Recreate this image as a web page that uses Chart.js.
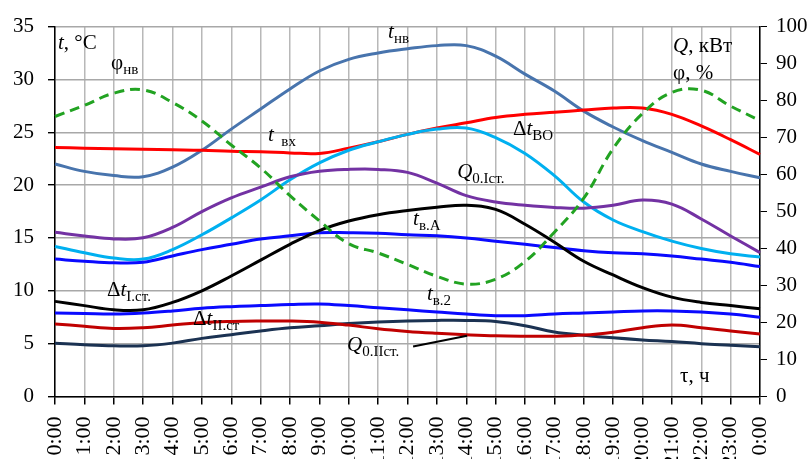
<!DOCTYPE html>
<html>
<head>
<meta charset="utf-8">
<script src="https://cdn.jsdelivr.net/npm/chart.js@4.4.1/dist/chart.umd.min.js"></script>
<style>
  html, body { margin: 0; padding: 0; background: #fff; overflow: hidden; }
  #wrap { width: 808px; height: 459px; position: relative; }
</style>
</head>
<body>
<div id="wrap"><canvas id="c" width="808" height="459"></canvas></div>
<script>
// Hour tick labels (24 h cycle, ending at midnight again)
const timeLabels = ['0:00','1:00','2:00','3:00','4:00','5:00','6:00','7:00','8:00','9:00','10:00','11:00',
  '12:00','13:00','14:00','15:00','16:00','17:00','18:00','19:00','20:00','21:00','22:00','23:00','0:00'];

// Temperatures, °C (left axis)
const tOutdoor = [22.0,21.3,20.9,20.8,21.7,23.3,25.3,27.2,29.1,30.8,31.9,32.5,32.9,33.2,33.2,32.2,30.5,28.9,27.0,25.5,24.2,23.1,22.0,21.3,20.7];
const tInlet   = [23.55,23.5,23.45,23.4,23.35,23.3,23.2,23.15,23.05,23.0,23.5,24.1,24.8,25.4,25.9,26.4,26.7,26.9,27.1,27.3,27.3,26.7,25.6,24.3,22.9];
const dtAirCooler = [14.2,13.6,13.1,13.0,13.9,15.3,16.9,18.6,20.5,22.1,23.3,24.1,24.8,25.3,25.4,24.5,23.0,20.9,18.4,16.7,15.6,14.7,14.0,13.5,13.2];
const tRoomA   = [13.0,12.8,12.65,12.7,13.3,13.9,14.4,14.9,15.2,15.5,15.5,15.45,15.3,15.2,15.0,14.7,14.4,14.1,13.8,13.6,13.5,13.3,13.0,12.7,12.3];
const dtStage1 = [9.0,8.6,8.2,8.2,8.9,10.0,11.4,12.9,14.4,15.7,16.6,17.2,17.6,17.9,18.1,17.7,16.3,14.6,12.8,11.5,10.3,9.4,8.9,8.6,8.3];
const tRoom2   = [7.9,7.85,7.8,7.9,8.1,8.35,8.5,8.6,8.7,8.75,8.6,8.4,8.2,8.0,7.8,7.65,7.65,7.8,7.9,8.0,8.1,8.1,8.0,7.8,7.5];
const dtStage2 = [5.05,4.9,4.8,4.8,5.05,5.5,5.85,6.2,6.5,6.7,6.9,7.05,7.15,7.2,7.2,7.1,6.7,6.1,5.8,5.55,5.35,5.2,5.0,4.85,4.7];

// Cooling capacity, kW, and outdoor humidity, % (right axis)
const qStage1  = [44.4,43.4,42.6,42.9,45.7,50.0,53.7,56.6,59.4,60.9,61.4,61.4,60.6,57.7,54.3,52.6,51.7,51.1,50.9,51.7,53.1,52.0,48.0,43.4,38.9];
const qStage2  = [19.6,19.0,18.4,18.6,19.3,20.0,20.3,20.4,20.4,20.1,19.3,18.3,17.6,17.1,16.7,16.4,16.3,16.3,16.6,17.4,18.6,19.3,18.6,17.7,16.9];
const phiOutdoor = [75.7,78.7,82.0,82.9,79.5,74.5,68.0,61.8,54.3,47.5,41.3,38.8,35.7,32.5,30.4,31.7,36.5,44.4,53.6,67.0,76.5,82.2,82.8,78.5,74.6];

// Axis tick ranges
const leftTicks = { min: 0, max: 35, step: 5 };
const rightTicks = { min: 0, max: 100, step: 10 };

const SERIF = '"Liberation Serif", "Times New Roman", serif';

// Curve captions placed in data coordinates (hour index, °C on the left axis)
const captions = [
  { h: 0.10, v: 32.9, parts: [{ t: 't', it: true }, { t: ', °C' }] },
  { h: 1.91, v: 31.0, parts: [{ t: 'φ' }, { t: 'нв', sub: true }] },
  { h: 11.34, v: 33.9, parts: [{ t: 't', it: true }, { t: 'нв', sub: true }] },
  { h: 7.25, v: 24.2, parts: [{ t: 't', it: true }, { t: '  вх', sub: true }] },
  { h: 15.59, v: 24.7, parts: [{ t: 'Δ' }, { t: 't', it: true }, { t: 'ВО', sub: true }] },
  { h: 13.69, v: 20.7, parts: [{ t: 'Q', it: true }, { t: '0.Iст.', sub: true }] },
  { h: 12.19, v: 16.2, parts: [{ t: 't', it: true }, { t: 'в.А', sub: true }] },
  { h: 12.66, v: 9.1, parts: [{ t: 't', it: true }, { t: 'в.2', sub: true }] },
  { h: 1.77, v: 9.5, parts: [{ t: 'Δ' }, { t: 't', it: true }, { t: 'I.ст.', sub: true }] },
  { h: 4.70, v: 6.8, parts: [{ t: 'Δ' }, { t: 't', it: true }, { t: 'II.ст', sub: true }] },
  { h: 9.94, v: 4.3, parts: [{ t: 'Q', it: true }, { t: '0.IIст.', sub: true }] },
  { h: 21.04, v: 32.55, parts: [{ t: 'Q', it: true }, { t: ', кВт' }] },
  { h: 21.04, v: 30.05, parts: [{ t: 'φ, %' }] },
  { h: 21.28, v: 1.35, parts: [{ t: 'τ, ч' }] }
];
// Leader line from the Q0.IIст. caption to its curve
const leader = [{ h: 12.19, v: 4.74 }, { h: 14.03, v: 5.75 }];

const captionPlugin = {
  id: 'captions',
  afterDatasetsDraw(chart) {
    const { ctx, scales } = chart;
    const x = scales.x, y = scales.y;
    ctx.save();
    ctx.fillStyle = '#000';
    ctx.textBaseline = 'alphabetic';
    ctx.textAlign = 'left';
    for (const c of captions) {
      let cx = x.getPixelForValue(c.h);
      const cy = y.getPixelForValue(c.v);
      for (const p of c.parts) {
        const size = p.sub ? 15 : 21;
        ctx.font = (p.it ? 'italic ' : '') + size + 'px ' + SERIF;
        ctx.fillText(p.t, cx, cy + (p.sub ? 5 : 0));
        cx += ctx.measureText(p.t).width;
      }
    }
    ctx.strokeStyle = '#000';
    ctx.lineWidth = 2;
    ctx.beginPath();
    ctx.moveTo(x.getPixelForValue(leader[0].h), y.getPixelForValue(leader[0].v));
    ctx.lineTo(x.getPixelForValue(leader[1].h), y.getPixelForValue(leader[1].v));
    ctx.stroke();
    ctx.restore();
  }
};

function line(label, data, color, axis, extra) {
  return Object.assign({
    label, data, borderColor: color, backgroundColor: color, yAxisID: axis,
    borderWidth: 3, pointRadius: 0, tension: 0.4, fill: false
  }, extra || {});
}

new Chart(document.getElementById('c'), {
  type: 'line',
  data: {
    labels: timeLabels,
    datasets: [
      line('φнв', phiOutdoor, '#22a322', 'y1', { borderDash: [10, 6] }),
      line('Δt I.ст.', dtStage1, '#000000', 'y'),
      line('t в.А', tRoomA, '#0a0aff', 'y'),
      line('t в.2', tRoom2, '#0a0aff', 'y'),
      line('Q0.IIст.', qStage2, '#c00000', 'y1'),
      line('Δt II.ст', dtStage2, '#1b3252', 'y'),
      line('Q0.Iст.', qStage1, '#7332a3', 'y1'),
      line('Δt ВО', dtAirCooler, '#00b0f0', 'y'),
      line('t вх', tInlet, '#ff0000', 'y'),
      line('t нв', tOutdoor, '#4874ad', 'y')
    ]
  },
  options: {
    responsive: false,
    devicePixelRatio: 1,
    animation: false,
    layout: { padding: { top: 16, left: 0, right: 0, bottom: 0 } },
    plugins: { legend: { display: false }, tooltip: { enabled: false } },
    scales: {
      x: {
        type: 'category',
        offset: false,
        afterFit(s) { s.height = 62.5; },
        border: { color: '#000', width: 1.5 },
        grid: { color: '#b8b8b8', lineWidth: 1.5, tickColor: '#000', tickLength: 8, offset: false },
        ticks: {
          color: '#000', autoSkip: false, minRotation: 90, maxRotation: 90, padding: 12,
          font: { family: SERIF, size: 22 }
        }
      },
      y: {
        position: 'left',
        min: leftTicks.min, max: leftTicks.max,
        afterFit(s) { s.width = 55; },
        border: { color: '#000', width: 1.5 },
        grid: { color: '#a8a8a8', lineWidth: 1.4, tickColor: '#000', tickLength: 7 },
        ticks: { stepSize: leftTicks.step, color: '#000', padding: 14, font: { family: SERIF, size: 21 } }
      },
      y1: {
        position: 'right',
        min: rightTicks.min, max: rightTicks.max,
        afterFit(s) { s.width = 48; },
        border: { color: '#000', width: 1.5 },
        grid: { drawOnChartArea: false, tickColor: '#000', tickLength: 7 },
        ticks: { stepSize: rightTicks.step, color: '#000', padding: 9, font: { family: SERIF, size: 21 } }
      }
    }
  },
  plugins: [captionPlugin]
});
</script>
</body>
</html>
